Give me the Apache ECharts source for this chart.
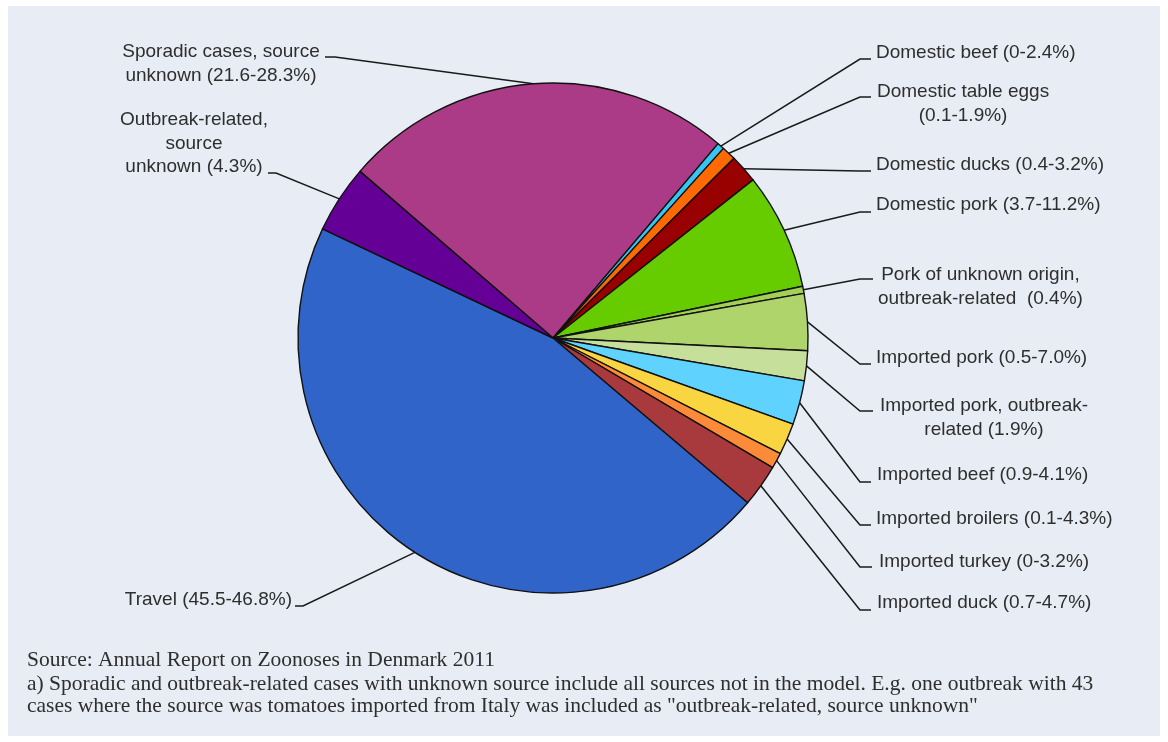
<!DOCTYPE html>
<html>
<head>
<meta charset="utf-8">
<script src="https://cdn.jsdelivr.net/npm/echarts@6.0.0/dist/echarts.min.js"></script>
<style>
html, body { margin: 0; padding: 0; background: #ffffff; }
#chart { width: 1168px; height: 742px; }
</style>
</head>
<body>
<div id="chart"></div>
<script>
// ---- Data ----
const categories = [
  'Sporadic cases, source\nunknown (21.6-28.3%)',
  'Domestic beef (0-2.4%)',
  'Domestic table eggs\n(0.1-1.9%)',
  'Domestic ducks (0.4-3.2%)',
  'Domestic pork (3.7-11.2%)',
  'Pork of unknown origin,\noutbreak-related  (0.4%)',
  'Imported pork (0.5-7.0%)',
  'Imported pork, outbreak-\nrelated (1.9%)',
  'Imported beef (0.9-4.1%)',
  'Imported broilers (0.1-4.3%)',
  'Imported turkey (0-3.2%)',
  'Imported duck (0.7-4.7%)',
  'Travel (45.5-46.8%)',
  'Outbreak-related,\nsource\nunknown (4.3%)'
];
const shares = [24.9, 0.45, 0.9, 1.8, 7.4, 0.45, 3.6, 1.9, 2.8, 2.0, 1.0, 2.7, 45.9, 4.3];
const sliceColors = [
  '#ab3b86', '#36c6f4', '#ff6a00', '#990000', '#66cc00', '#a2cf55',
  '#afd46b', '#c6e09c', '#5fd3fd', '#f9d541', '#fb8b39', '#a8393c',
  '#3164c9', '#650096'
];
const footerSource = 'Source: Annual Report on Zoonoses in Denmark 2011';
const footerNote = 'a) Sporadic and outbreak-related cases with unknown source include all sources not in the model. E.g. one outbreak with 43\ncases where the source was tomatoes imported from Italy was included as "outbreak-related, source unknown"';

// ---- Label layout (text placement, not data) ----
const LABEL_FONT = 19;
const LABEL_LH = 23.5;
// anchor: L = block left edge, R = block right edge, C = block centre
const labelSpots = [
  { anchor: 'C', x: 221, y: 52,  lineY: 57,  bend: 335, end: 325 },
  { anchor: 'L', x: 876, y: 53,  lineY: 59,  bend: 860, end: 871 },
  { anchor: 'L', x: 877, y: 92,  lineY: 97,  bend: 860, end: 871 },
  { anchor: 'L', x: 876, y: 165, lineY: 171, bend: 860, end: 871 },
  { anchor: 'L', x: 876, y: 205, lineY: 212, bend: 860, end: 871 },
  { anchor: 'L', x: 878, y: 275, lineY: 279, bend: 860, end: 873 },
  { anchor: 'L', x: 876, y: 358, lineY: 364, bend: 860, end: 871 },
  { anchor: 'L', x: 880, y: 406, lineY: 411, bend: 860, end: 873 },
  { anchor: 'L', x: 877, y: 475, lineY: 482, bend: 860, end: 871 },
  { anchor: 'L', x: 876, y: 519, lineY: 525, bend: 860, end: 871 },
  { anchor: 'L', x: 879, y: 562, lineY: 567, bend: 860, end: 872 },
  { anchor: 'L', x: 877, y: 603, lineY: 610, bend: 860, end: 871 },
  { anchor: 'R', x: 292, y: 600, lineY: 606, bend: 303, end: 295 },
  { anchor: 'C', x: 194, y: 120, lineY: 173, bend: 276, end: 268 }
];

const chart = echarts.init(document.getElementById('chart'), null, { renderer: 'canvas' });

const pieData = categories.map((name, i) => ({
  name: name,
  value: shares[i],
  itemStyle: { color: sliceColors[i] }
}));

const option = {
  backgroundColor: '#ffffff',
  animation: false,
  graphic: [{
    type: 'rect',
    z: -10,
    silent: true,
    shape: { x: 8, y: 6, width: 1152, height: 730 },
    style: { fill: '#e8ecf4' }
  }],
  title: {
    left: 27,
    top: 649,
    padding: 0,
    itemGap: 3,
    text: footerSource,
    subtext: footerNote,
    textStyle: {
      fontFamily: '"Liberation Serif", "Times New Roman", serif',
      fontSize: 21.5,
      fontWeight: 'normal',
      color: '#2e2e2e',
      lineHeight: 22
    },
    subtextStyle: {
      fontFamily: '"Liberation Serif", "Times New Roman", serif',
      fontSize: 21.5,
      color: '#2e2e2e',
      lineHeight: 21.7
    }
  },
  series: [{
    type: 'pie',
    center: [553, 338],
    radius: 255,
    startAngle: 139.2,
    clockwise: true,
    avoidLabelOverlap: false,
    silent: true,
    data: pieData,
    itemStyle: { borderColor: '#111111', borderWidth: 1.4 },
    label: {
      show: true,
      position: 'outside',
      alignTo: 'none',
      formatter: '{b}',
      fontFamily: '"Liberation Sans", Arial, sans-serif',
      fontSize: LABEL_FONT,
      lineHeight: LABEL_LH,
      color: '#2e2e2e'
    },
    labelLine: {
      show: true,
      length: 8,
      length2: 8,
      smooth: false,
      lineStyle: { color: '#1a1a1a', width: 1.5 }
    },
    labelLayout: function (p) {
      const s = labelSpots[p.dataIndex];
      const w = p.labelRect.width;
      const multi = categories[p.dataIndex].indexOf('\n') >= 0;
      let x, align;
      if (multi) {
        align = 'center';
        x = s.anchor === 'L' ? s.x + w / 2 : (s.anchor === 'R' ? s.x - w / 2 : s.x);
      } else {
        align = s.anchor === 'R' ? 'right' : 'left';
        x = s.x;
      }
      const pts = p.labelLinePoints;
      const res = { x: x, y: s.y - LABEL_LH / 2, align: align, verticalAlign: 'top' };
      if (pts && pts[0]) {
        res.labelLinePoints = [[pts[0][0], pts[0][1]], [s.bend, s.lineY], [s.end, s.lineY]];
      }
      return res;
    }
  }]
};

chart.setOption(option);
</script>
</body>
</html>
